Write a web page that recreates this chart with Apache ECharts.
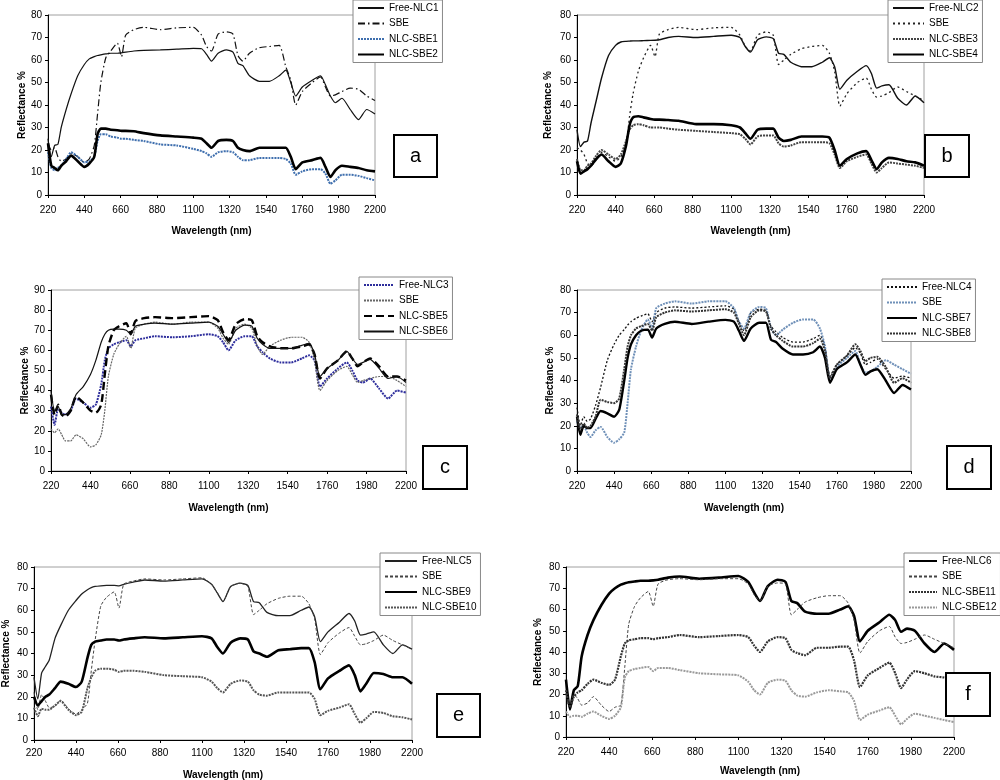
<!DOCTYPE html>
<html><head><meta charset="utf-8">
<script src="https://cdn.jsdelivr.net/npm/echarts@6/dist/echarts.min.js"></script>
<style>html,body{margin:0;padding:0;background:#fff}#c{width:1000px;height:780px}</style>
</head><body><div id="c"></div>
<script>
// Wavelength sample points (nm)
const wavelength = [220,240,260,280,300,330,360,400,440,470,500,520,540,570,600,640,665,690,740,800,900,1000,1100,1150,1180,1210,1250,1300,1340,1370,1400,1440,1500,1560,1620,1660,1690,1720,1760,1820,1870,1900,1930,1960,2000,2050,2100,2150,2200];
const xTickLabels = [220,440,660,880,1100,1320,1540,1760,1980,2200];
const panelLabels = ['a','b','c','d','e','f'];

// Panel a
const freeNLC1 = [25,17,22,22.5,30,38,45,53,58,60.5,61.5,62,62.3,62.7,63,63,63.2,63.5,64,64.3,64.5,64.8,65.2,65,62.5,59.5,63,64.5,63.5,58.5,57.5,53,50.5,50.5,53,55.5,50,44,48,51,53,49,44,41,43,38,33.5,38,36];
const sbeA = [23,20,21,17,15,16,18.5,17,14.5,16,22,36,50,61,64,67.5,61.5,71,73.5,74.5,73.5,74.3,74.5,71,66,64,71.5,72.5,71.5,62,59.5,63,65.5,66,66.5,57,51,40,46,50,52.5,48,44,44.5,46,47.5,47,44,42];
const nlcSBE1 = [19,12,11,12,13,16,19,17,14.5,15,17,24,27,27,26,25.5,25,25,24.5,24,22.5,22,20.5,19.5,18.5,17,19,19.5,19,17,15.5,15.5,16.5,16.5,16.5,16,14,9,10.5,11.5,11.5,9.5,5,6.5,9,9,8.5,7.5,6.5];
const nlcSBE2 = [23,13,12,11,13,15,17.5,15,12.5,14,17,27,29.5,29.5,29,28.8,28.5,28.5,28.3,27.5,26.5,26,25.5,25,23,21,24,24.5,24,21,20,19.5,21,21,21,21,17,11.5,14.5,15.5,16.5,12.5,8,11,13,12.5,12,11,10.5];
// Panel b
const freeNLC2 = [29,21.5,23.5,24,32,42,52,62,66.5,68,68.3,68.4,68.5,68.5,68.6,68.7,68.8,69,70,70.5,70,70.5,71,70,66,63.5,69,70.3,69.5,63,62.5,59,57,57,59,61,57,47,51,55,57.5,54,47.5,48.5,49,43,40,44,41];
const sbeB = [21,20,18,14,13,16,19,17,15,17,22,35,45,55,61,66.5,61.5,71.5,73.5,74.5,73.5,74.3,74.5,71,66,64,71,72.5,71,58,60,62.5,65,66,66.5,63,55,39.5,45,50,52,47,43.5,44,45.5,48,46,44,42];
const nlcSBE3 = [16,11,11,13,14,17.5,20,18,16,18,24,29,31,31.5,31,30,30,30,29.5,29,28.5,28,27.5,27,25,22.5,26,26.5,26.5,23,21.5,22,23.5,23.5,23.5,23,18,12,15,17,18,14,10,12,14.5,14,13.5,13,12];
const nlcSBE4 = [15,9.5,10.5,11.5,13,16,18,15,12.5,14,22,31,34.5,35,34.5,33.8,33.5,33.5,33.3,33,31.5,31.5,31,30,27.5,25,29,29.5,29.5,25.5,24,24.5,26,26,26,25.5,20,13,16,18.5,19.5,15.5,11.5,14.5,16.5,16,15,14.5,13];
// Panel c
const freeNLC3 = [32,23,31,29,28,30,36,34,31.5,33,43,55,61,63,64,65,62,65,66,67,66.5,67,68,67,64,60,65,67,67,62,59,56,54,54,56,57.5,55,42,46,51,54,50,45,44,46,41,36,40,39];
const sbeC = [21,19,21,18,15,15,18,16,12,13,18,30,47,58,63,67,61,71,73,74,73,74,74,71,66,63,71,73,71,62,58,62,65,66.5,66.5,64,55,40,45,50,52,48,44,45,46,47,47,45,42];
const nlcSBE5 = [38,28,33,28,27,30,37,34,30,29,33,48,62,70,72,73.5,68,74.5,76,76.5,76,76.5,77,75,69,65,73,75.5,75,67,64,62,61,61,62,63,58,46,51,55,59.5,56,52,54,56,52,47,47,45];
const nlcSBE6 = [40,30,32,28,28,31,38,42,48,55,64,68,70,70.5,70.5,70,68,72,73,73.5,73,73.5,74,72,68,64,70,72.5,72,66,63,61,61,61,62.5,63.5,58,47,51,55,59.5,56,53,54,55.5,51,46,47,44];
// Panel d
const freeNLC4 = [28,20,24,22,23,29,37,49,56,60,62.5,64.5,66,67.5,68.5,69.5,66,70,72,72.5,72,72.5,73,71.5,66,62,70,71.5,71,64,61.5,59,57,57,58.5,60,55,42,47,51,54.5,52,47,48,49.5,45,41,42,41];
const sbeD = [22,19,20,17,15,18,19.5,15,12.5,14,17,30,45,55,62,67,63,72,74,75,74,75,75,72,66,63,70,72.5,72,63,60,62.5,65.5,67,67,63,55,40,46,50,53,47,43.5,44,46,49,47,45,43];
const nlcSBE7 = [24,16,20,19,19,23,26.5,25.5,24,27,40,50,56,60,62,62.5,59,63,65,66,65,66,66.8,66,62,57.5,63,65.5,65.5,58,57,54,51.5,51.5,52.5,55,50,39,45,48,51.5,47,42.5,44,45,40,34.5,38,36];
const nlcSBE8 = [25,18,21,19,20,24,31.5,30.5,30,32,45,55,60,63,64,65,62,68,70,71,70.5,71,71.5,70,65,60,68,71,70.5,63,60,57.5,55,55,56.5,58.5,53,41,47,51,56,53,48.5,50,50.5,46,39,41,39];
// Panel e
const freeNLC5 = [29,19,31,34,37,47,53,60,64.5,67.5,69.5,70.5,71,71.3,71.5,71.5,71.3,72,73,74,73.5,74,74.5,72,68,64,71,72.5,71.5,64,63.5,59,57.5,57.5,60,61.5,57,45.5,50,54.5,58.5,55,48.5,49,50,44,40,44,42];
const sbeE = [22,14,21,18,15,15.5,18.5,14.5,12,14,17,32,46,62,66,68.5,61,72,73.5,74.5,74,74.5,75,72,68,64,71,72.5,71,58,60,63,65.5,66.5,66.5,63,56,39.5,45,49.5,52,48,44,44.5,46,48.5,46,44,42];
const nlcSBE9 = [20,16,18,20,21,24,27,26,24.5,27,38,44,45.5,46,46.5,46.5,46,46.5,47,47.5,47,47.5,48,47,43,40,45,47,46.5,41,40,38.5,41.5,42,42.5,42.5,36,23.5,28.5,32,34.5,30,22.5,26,31,30.5,29,29,26];
const nlcSBE10 = [15,11,14.5,14,14,16,18,14,11.5,13,24,29,32,33,33,32.5,31.5,32,32,31.5,30,29.5,29,27,24,22,26,27.5,27,23,21,20.5,22,22,22,22,19,11.5,13.5,15,16.5,12,8,10,13,12.5,11,10.5,9.5];
// Panel f
const freeNLC6 = [27,13,22,24,38,48,55,62,67.5,70,71.7,72.3,72.8,73.2,73.5,73.5,73.7,74,75,75.5,74.5,75,75.8,73,68,64,71,74,73,64,63,59,58,58,60,61.5,57,45,50,54,57.5,55,49.5,51,50,44,40,44,41];
const sbeF = [20,16,20,18,15,16,19,15,12,14,15,33,53,61.5,65.5,68.5,61.5,72,74,74.5,74,74.5,74.5,72,67,64,71,72.5,72,57.5,60,63.5,65.5,66.5,66.5,63,55,39.5,45,50,52,47,44,44.5,46,48,46,44,42];
const nlcSBE11 = [22,14,19,21,22,25,27,25.5,24.5,27,38,44,45.5,46,46.5,46.5,46,46.5,47,48,47,47.5,48,47,43,40,45,47,46.5,41,39.5,38.5,42,42,42.5,42.5,36,23.5,29,32.5,35,30,23,27,31,30,28.5,28,27];
const nlcSBE12 = [12,9.5,10,10,9.5,11,12,10,8.5,10,14,28,31,32,32.5,33,31,32.5,32.5,31.5,30,29.5,29,26,22,20,25.5,27,26.5,22,19.5,19,21,22,21.5,21,17,8,10.5,12.5,14,10,6,8.5,11,10,9,8,7];

const FONT = '"Liberation Sans", Arial, sans-serif';
const panels = [
  {grid:{left:48,top:15,width:327,height:180}, yMax:80, legend:{left:353,top:0,w:26}, box:[394,135,43,42], gapX:31, mX:10, gapY:21,
   series:[
    {name:'Free-NLC1', data:freeNLC1, color:'#111', width:1.2, type:'solid'},
    {name:'SBE', data:sbeA, color:'#111', width:1.2, type:[7,3,1.5,3]},
    {name:'NLC-SBE1', data:nlcSBE1, color:'#3f6fae', width:2, type:[2,1]},
    {name:'NLC-SBE2', data:nlcSBE2, color:'#000', width:2.6, type:'solid'}]},
  {grid:{left:577,top:15,width:347,height:180}, yMax:80, legend:{left:888,top:0,w:31}, box:[925,135,44,42], gapX:31, mX:10, gapY:24,
   series:[
    {name:'Free-NLC2', data:freeNLC2, color:'#111', width:1.4, type:'solid'},
    {name:'SBE', data:sbeB, color:'#222', width:1.3, type:[2,3]},
    {name:'NLC-SBE3', data:nlcSBE3, color:'#444', width:2, type:[2,1]},
    {name:'NLC-SBE4', data:nlcSBE4, color:'#000', width:2.6, type:'solid'}]},
  {grid:{left:51,top:290,width:355,height:181}, yMax:90, legend:{left:359,top:277,w:30}, box:[423,446,44,43], gapX:32, mX:10, gapY:21,
   series:[
    {name:'Free-NLC3', data:freeNLC3, color:'#2d2d9c', width:2, type:[2,1]},
    {name:'SBE', data:sbeC, color:'#666', width:1.2, type:[2,1]},
    {name:'NLC-SBE5', data:nlcSBE5, color:'#000', width:2.4, type:[8,4]},
    {name:'NLC-SBE6', data:nlcSBE6, color:'#111', width:1.2, type:'solid'}]},
  {grid:{left:577,top:290,width:334,height:181}, yMax:80, legend:{left:882,top:279,w:30}, box:[947,446,44,43], gapX:32, mX:10, gapY:22,
   series:[
    {name:'Free-NLC4', data:freeNLC4, color:'#111', width:1.3, type:[2,2]},
    {name:'SBE', data:sbeD, color:'#6f90b8', width:2, type:[2,1]},
    {name:'NLC-SBE7', data:nlcSBE7, color:'#000', width:2.4, type:'solid'},
    {name:'NLC-SBE8', data:nlcSBE8, color:'#333', width:2, type:[2,1]}]},
  {grid:{left:34,top:567,width:378,height:173}, yMax:80, legend:{left:380,top:553,w:32}, box:[437,694,43,43], gapX:30, mX:8, gapY:23,
   series:[
    {name:'Free-NLC5', data:freeNLC5, color:'#222', width:1.3, type:'solid'},
    {name:'SBE', data:sbeE, color:'#444', width:1, type:[3,2]},
    {name:'NLC-SBE9', data:nlcSBE9, color:'#000', width:2.6, type:'solid'},
    {name:'NLC-SBE10', data:nlcSBE10, color:'#555', width:2, type:[2,1]}]},
  {grid:{left:566,top:567,width:388,height:170}, yMax:80, legend:{left:904,top:553,w:28}, box:[946,673,44,43], gapX:29, mX:10, gapY:23,
   series:[
    {name:'Free-NLC6', data:freeNLC6, color:'#000', width:2.6, type:'solid'},
    {name:'SBE', data:sbeF, color:'#444', width:1, type:[3,2]},
    {name:'NLC-SBE11', data:nlcSBE11, color:'#333', width:2.2, type:[2,1]},
    {name:'NLC-SBE12', data:nlcSBE12, color:'#999', width:2, type:[2,1]}]}
];

const option = {animation:false, backgroundColor:'#fff', textStyle:{fontFamily:FONT},
  grid:[], xAxis:[], yAxis:[], series:[], legend:[], graphic:[]};

panels.forEach((p, i) => {
  option.grid.push(Object.assign({show:true, borderColor:'#a0a0a0', borderWidth:1, backgroundColor:'#fff', containLabel:false, outerBoundsMode:'none'}, p.grid));
  option.xAxis.push({type:'value', gridIndex:i, min:xTickLabels[0], max:xTickLabels[xTickLabels.length-1], interval:xTickLabels[1]-xTickLabels[0],
    name:'Wavelength (nm)', nameLocation:'middle', nameGap:p.gapX,
    nameTextStyle:{fontWeight:'bold', fontSize:10, color:'#000', fontFamily:FONT},
    axisLine:{show:true, onZero:false, lineStyle:{color:'#000', width:1}},
    axisTick:{show:true, length:3, lineStyle:{color:'#000'}},
    axisLabel:{fontSize:10, color:'#000', margin:p.mX, fontFamily:FONT, showMinLabel:true, showMaxLabel:true, formatter: v => String(v)},
    splitLine:{show:false}});
  option.yAxis.push({type:'value', gridIndex:i, min:0, max:p.yMax, interval:10,
    name:'Reflectance %', nameLocation:'middle', nameGap:p.gapY, nameRotate:90,
    nameTextStyle:{fontWeight:'bold', fontSize:10, color:'#000', fontFamily:FONT},
    axisLine:{show:true, onZero:false, lineStyle:{color:'#000', width:1}},
    axisTick:{show:true, length:3, lineStyle:{color:'#000'}},
    axisLabel:{fontSize:10, color:'#000', margin:6, fontFamily:FONT, formatter: v => String(v)},
    splitLine:{show:false}});
  const legendData = [];
  p.series.forEach(s => {
    const id = s.name + '#' + panelLabels[i];
    legendData.push(id);
    option.series.push({type:'line', name:id, xAxisIndex:i, yAxisIndex:i, symbol:'none', smooth:0.2,
      data: wavelength.map((w, k) => [w, s.data[k]]),
      lineStyle:{color:s.color, width:s.width, type:s.type}, itemStyle:{color:s.color}});
  });
  option.legend.push({data:legendData, orient:'vertical', left:p.legend.left, top:p.legend.top,
    itemWidth:p.legend.w, itemHeight:12, itemGap:5.5, padding:[3,4,3,4],
    borderColor:'#888', borderWidth:1, backgroundColor:'#fff', borderRadius:0, selectedMode:false,
    itemStyle:{opacity:0, borderWidth:0},
    formatter: n => n.split('#')[0],
    textStyle:{fontSize:10, color:'#000', fontFamily:FONT}});
  option.graphic.push({type:'rect', z:100, shape:{x:p.box[0], y:p.box[1], width:p.box[2], height:p.box[3]},
    style:{fill:'#fff', stroke:'#000', lineWidth:2},
    textContent:{style:{text:panelLabels[i], fontSize:20, fill:'#000', fontFamily:FONT}, z:101},
    textConfig:{position:'inside'}});
});

const chart = echarts.init(document.getElementById('c'));
chart.setOption(option);
</script>
</body></html>
